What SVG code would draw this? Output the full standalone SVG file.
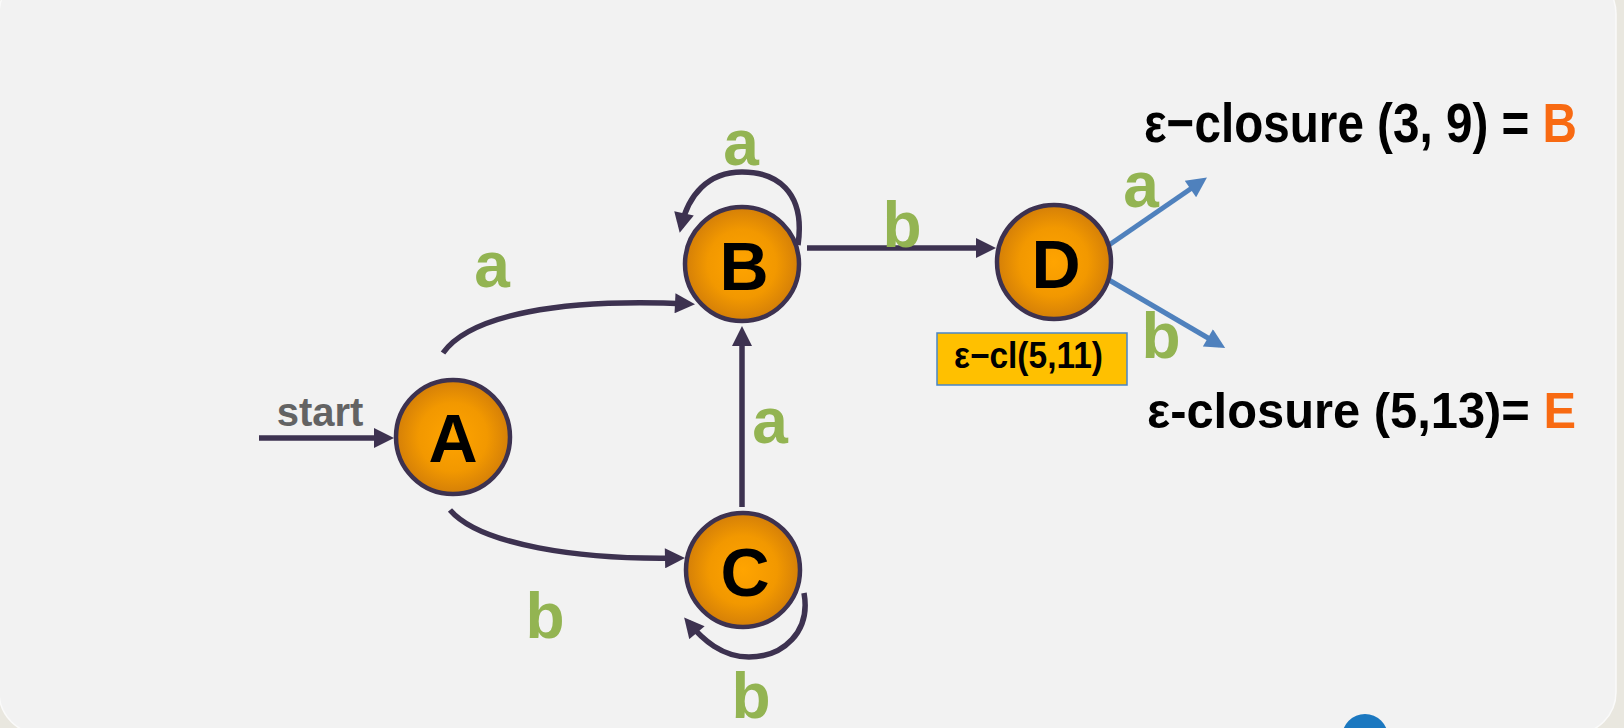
<svg xmlns="http://www.w3.org/2000/svg" width="1624" height="728" viewBox="0 0 1624 728">
<style>
.edge{fill:none;stroke:#3d3250;stroke-width:5.5}
.blue{fill:none;stroke:#4f81bd;stroke-width:5}
.node{fill:url(#ng);stroke:#3d3250;stroke-width:4.5}
.nl{font-family:"Liberation Sans",Arial,sans-serif;font-weight:bold;font-size:68px;fill:#000;text-anchor:middle}
.gl{font-family:"Liberation Sans",Arial,sans-serif;font-weight:bold;font-size:64px;fill:#93b452;text-anchor:middle}
.eq{font-family:"Liberation Sans",Arial,sans-serif;font-weight:bold;fill:#000}
.or{fill:#f86a12}
</style>
<defs>
<radialGradient id="ng" cx="0.5" cy="0.5" r="0.5">
<stop offset="0" stop-color="#ffa400"/>
<stop offset="0.6" stop-color="#f29800"/>
<stop offset="1" stop-color="#d47f08"/>
</radialGradient>
<marker id="ah" viewBox="0 0 20 20" refX="14" refY="10" markerWidth="22" markerHeight="20" markerUnits="userSpaceOnUse" orient="auto">
<path d="M0,0 L20,10 L0,20 z" fill="#3d3250"/>
</marker>
<marker id="bh" viewBox="0 0 20 20" refX="14" refY="10" markerWidth="22" markerHeight="20" markerUnits="userSpaceOnUse" orient="auto">
<path d="M0,0 L20,10 L0,20 z" fill="#4f81bd"/>
</marker>
</defs>
<rect x="0" y="0" width="1624" height="728" fill="#e9e7df"/>
<rect x="-1" y="-28" width="1617" height="762" rx="42" fill="#f2f2f2" stroke="#fafafa" stroke-width="1.5"/>
<circle cx="1365" cy="737" r="23" fill="#1b78c0"/>

<g id="connectors">
<path class="edge" d="M259,438 L388,438" marker-end="url(#ah)"/>
<path class="edge" d="M443,353 C470,315 560,298 689,304" marker-end="url(#ah)"/>
<path class="edge" d="M450,510 C480,545 580,560 679,558" marker-end="url(#ah)"/>
<path class="edge" d="M807,248 L990,248" marker-end="url(#ah)"/>
<path class="edge" d="M742,507 L742,332" marker-end="url(#ah)"/>
<path class="edge" d="M798,245 C806,190 775,172 742,172 C708,172 688,195 681,227" marker-end="url(#ah)"/>
<path class="edge" d="M804,593 C811,632 783,657 749,657 C722,657 703,640 688,622" marker-end="url(#ah)"/>
<path class="blue" d="M1109,245 L1202,181" marker-end="url(#bh)"/>
<path class="blue" d="M1109,280 L1220,345" marker-end="url(#bh)"/>
<text x="320" y="426" font-family="Liberation Sans,Arial,sans-serif" font-weight="bold" font-size="40" fill="#636363" text-anchor="middle">start</text>
<text class="gl" x="492" y="287">a</text>
<text class="gl" x="545" y="638">b</text>
<text class="gl" x="741" y="165">a</text>
<text class="gl" x="902" y="247">b</text>
<text class="gl" x="770" y="443">a</text>
<text class="gl" x="751" y="718">b</text>
<text class="gl" x="1141" y="207">a</text>
<text class="gl" x="1161" y="358">b</text>
</g>

<g id="node-A"><circle class="node" cx="453" cy="437" r="57"/><text class="nl" x="453" y="462">A</text></g>
<g id="node-B"><circle class="node" cx="742" cy="264" r="57"/><text class="nl" x="744" y="290">B</text></g>
<g id="node-C"><circle class="node" cx="743" cy="570" r="57"/><text class="nl" x="745" y="596">C</text></g>
<g id="node-D"><circle class="node" cx="1054" cy="262" r="57"/><text class="nl" x="1056" y="288">D</text></g>

<g id="note-ecl">
<rect x="937" y="333" width="190" height="52" fill="#ffc000" stroke="#4a86c8" stroke-width="1.5"/>
<text x="954" y="368" font-family="Liberation Sans,Arial,sans-serif" font-weight="bold" font-size="36" fill="#000" textLength="149" lengthAdjust="spacingAndGlyphs">ε−cl(5,11)</text>
</g>
<g id="eq1"><text class="eq" x="1144" y="142" font-size="56" textLength="433" lengthAdjust="spacingAndGlyphs">ε−closure (3, 9) = <tspan class="or">B</tspan></text></g>
<g id="eq2"><text class="eq" x="1147" y="428" font-size="50" textLength="429" lengthAdjust="spacingAndGlyphs">ε-closure (5,13)= <tspan class="or">E</tspan></text></g>
</svg>
